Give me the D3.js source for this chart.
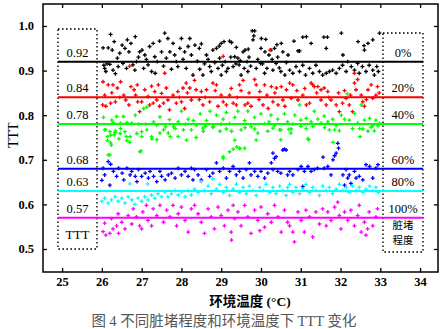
<!DOCTYPE html>
<html>
<head>
<meta charset="utf-8">
<script src="https://cdn.jsdelivr.net/npm/d3@7/dist/d3.min.js"></script>
<style>
  html, body { margin: 0; padding: 0; background: #fff; }
  svg { display: block; }
</style>
</head>
<body>
<svg id="chart" width="445" height="329"></svg>
<script>
// Dirt levels (legend on the right) and the mean TTT drawn for each level
const levels = ["0%", "20%", "40%", "60%", "80%", "100%"];
const meanTTT = [0.92, 0.84, 0.78, 0.68, 0.63, 0.57];
const colors = ["#000000", "#ff0000", "#00ff00", "#0000ff", "#00ffff", "#ff00ff"];

const xTicks = [25, 26, 27, 28, 29, 30, 31, 32, 33, 34];
const yTicks = [0.5, 0.6, 0.7, 0.8, 0.9, 1.0];

// Measured TTT against ambient temperature, [temperature °C, TTT]
const dirt0 = [
  [26.03,0.951],[26.05,0.912],[26.07,0.905],[26.10,0.898],[26.13,0.915],[26.16,0.951],[26.20,0.914],[26.22,0.981],
  [26.26,0.946],[26.28,0.901],[26.31,0.965],[26.34,0.893],[26.39,0.928],[26.41,0.909],[26.45,0.939],[26.51,0.957],
  [26.53,0.916],[26.58,0.950],[26.62,0.905],[26.64,0.969],[26.68,0.942],[26.73,0.961],[26.78,0.913],[26.83,0.901],
  [26.84,0.976],[26.87,0.920],[26.92,0.930],[26.95,0.942],[27.01,0.946],[27.05,0.905],[27.08,0.935],[27.12,0.925],
  [27.16,0.913],[27.20,0.954],[27.25,0.898],[27.29,0.961],[27.33,0.931],[27.34,0.894],[27.39,0.920],[27.45,0.966],
  [27.50,0.942],[27.55,0.910],[27.58,0.984],[27.62,0.928],[27.66,0.972],[27.71,0.942],[27.75,0.903],[27.79,0.961],
  [27.83,0.935],[27.87,0.920],[27.91,0.909],[27.96,0.950],[28.00,0.972],[28.04,0.925],[28.08,0.942],[28.12,0.905],
  [28.17,0.954],[28.21,0.972],[28.25,0.935],[28.29,0.890],[28.34,0.957],[28.54,0.890],[28.63,0.935],[28.71,0.909],
  [28.79,0.946],[28.88,0.950],[28.92,0.905],[29.00,0.961],[29.00,0.890],[29.07,0.965],[29.13,0.898],[29.21,0.966],
  [29.26,0.963],[29.30,0.909],[29.34,0.931],[29.42,0.928],[29.45,0.913],[29.50,0.890],[29.55,0.942],[29.60,0.946],
  [29.65,0.920],[29.67,0.898],[29.78,0.989],[29.80,0.969],[29.82,0.978],[29.84,0.989],[29.88,0.905],[29.99,0.916],
  [30.00,0.950],[30.01,0.972],[30.09,0.894],[30.10,0.942],[30.12,0.970],[30.20,0.935],[30.25,0.946],[30.30,0.901],
  [30.34,0.950],[30.38,0.916],[30.50,0.898],[30.51,0.961],[30.55,0.942],[30.60,0.890],[30.72,0.901],[30.80,0.894],
  [30.83,0.966],[30.88,0.909],[30.93,0.944],[30.97,0.898],[30.97,0.944],[31.05,0.975],[31.05,0.912],[31.12,0.890],
  [31.14,0.976],[31.22,0.905],[31.26,0.961],[31.30,0.894],[31.38,0.912],[31.47,0.898],[31.55,0.890],[31.58,0.975],
  [31.64,0.950],[31.64,0.894],[31.67,0.975],[31.72,0.898],[31.80,0.901],[31.89,0.894],[31.97,0.905],[32.02,0.984],
  [32.05,0.912],[32.06,0.935],[32.14,0.898],[32.18,0.920],[32.27,0.909],[32.35,0.901],[32.43,0.916],[32.44,0.965],
  [32.47,0.894],[32.55,0.909],[32.59,0.956],[32.60,0.946],[32.64,0.898],[32.69,0.961],[32.72,0.912],[32.81,0.969],
  [32.81,0.901],[32.85,0.890],[32.91,0.909],[32.95,0.898],[32.98,0.984],
  [28.40,0.921],[28.46,0.903],[28.58,0.915],[28.67,0.925],[28.75,0.898],[28.84,0.918],[28.96,0.928],[29.03,0.912],
  [29.10,0.920],[29.17,0.905],[29.24,0.930],[29.37,0.915],[29.48,0.922],[29.58,0.905],[29.70,0.930],[29.74,0.910],
  [29.92,0.925],[30.04,0.915],[30.15,0.905],[30.28,0.925],[30.42,0.930],[30.46,0.906],[30.64,0.918],[30.68,0.935],
  [28.45,0.950],[28.50,0.960],[28.95,0.955],[29.38,0.952],[29.68,0.948],[30.40,0.958]
];
const dirt20 = [
  [26.03,0.875],[26.16,0.868],[26.28,0.868],[26.07,0.845],[26.02,0.823],[26.10,0.820],[26.22,0.827],[26.34,0.830],
  [26.39,0.861],[26.47,0.875],[26.55,0.845],[26.60,0.834],[26.68,0.823],[26.73,0.864],[26.81,0.857],[26.85,0.845],
  [26.89,0.868],[26.95,0.808],[27.00,0.830],[27.08,0.857],[27.16,0.842],[27.20,0.823],[27.29,0.827],[27.33,0.853],
  [27.38,0.834],[27.42,0.868],[27.50,0.849],[27.55,0.827],[27.62,0.861],[27.66,0.834],[27.70,0.812],[27.79,0.845],
  [27.87,0.827],[27.91,0.853],[28.00,0.830],[28.04,0.861],[28.08,0.815],[28.12,0.872],[28.21,0.861],[28.25,0.834],
  [27.58,0.894],[26.70,0.910],[28.33,0.878],[28.37,0.857],[28.50,0.853],[28.63,0.857],[28.54,0.823],[28.71,0.830],
  [28.79,0.872],[28.88,0.868],[28.92,0.820],[29.05,0.830],[29.13,0.823],[29.21,0.845],[29.30,0.827],[29.38,0.823],
  [29.46,0.868],[29.55,0.878],[29.60,0.823],[29.67,0.827],[29.75,0.820],[29.84,0.880],[29.88,0.868],[29.97,0.853],
  [30.05,0.823],[30.09,0.868],[30.18,0.815],[30.26,0.864],[30.30,0.830],[30.39,0.861],[30.43,0.823],[30.51,0.864],
  [30.55,0.834],[30.64,0.857],[30.23,0.946],[29.05,0.932],[30.72,0.872],[30.80,0.868],[31.26,0.872],[31.30,0.868],
  [31.34,0.864],[31.43,0.864],[31.51,0.857],[31.59,0.861],[31.68,0.853],[30.76,0.838],[30.93,0.834],[31.05,0.845],
  [31.14,0.823],[31.22,0.827],[31.51,0.834],[31.64,0.823],[31.76,0.834],[31.89,0.823],[31.97,0.808],[32.05,0.827],
  [32.14,0.838],[32.22,0.823],[32.30,0.808],[32.35,0.872],[32.39,0.857],[32.43,0.880],[32.52,0.845],[32.56,0.830],
  [32.60,0.820],[32.69,0.857],[32.77,0.868],[32.81,0.838],[32.89,0.845],[32.93,0.864],[32.35,0.894],
  [26.25,0.850],[26.45,0.840],[26.90,0.830],[27.25,0.865],[27.45,0.820],[27.95,0.840],[28.15,0.850],[28.45,0.835],
  [28.60,0.840],[28.85,0.855],[29.00,0.845],[29.25,0.860],[29.40,0.840],[29.50,0.855],[29.70,0.850],[29.95,0.835],
  [30.15,0.845],[30.35,0.850],[30.60,0.820],[30.90,0.855],[31.10,0.860],[31.40,0.850],[31.70,0.840],[31.95,0.850],
  [32.10,0.855],[32.25,0.845],[32.65,0.835],[32.97,0.850]
];
const dirt40 = [
  [26.04,0.795],[26.25,0.789],[26.37,0.797],[26.54,0.797],[26.29,0.783],[26.47,0.782],[26.63,0.783],[26.75,0.782],
  [26.92,0.780],[26.10,0.767],[26.20,0.763],[26.33,0.761],[26.46,0.759],[26.58,0.763],[26.14,0.752],[26.31,0.756],
  [26.43,0.747],[26.14,0.743],[26.22,0.738],[26.63,0.743],[26.71,0.752],[26.88,0.759],[27.00,0.763],[27.05,0.815],
  [27.13,0.818],[26.84,0.800],[26.16,0.711],[26.96,0.718],[26.07,0.767],[26.22,0.755],[26.34,0.765],[26.47,0.770],
  [26.62,0.752],[26.70,0.739],[26.98,0.720],[27.26,0.747],[27.38,0.745],[27.46,0.760],[27.60,0.774],[27.72,0.752],
  [27.84,0.770],[27.92,0.752],[28.13,0.744],[28.25,0.767],[26.20,0.711],[26.24,0.733],[27.00,0.752],[27.13,0.767],
  [27.25,0.752],[27.38,0.778],[27.46,0.796],[27.55,0.767],[27.67,0.760],[27.80,0.774],[27.92,0.785],[28.00,0.809],
  [28.05,0.767],[28.17,0.791],[28.30,0.788],[28.38,0.778],[28.47,0.803],[28.55,0.764],[28.63,0.788],[28.72,0.809],
  [28.80,0.774],[28.88,0.800],[28.97,0.764],[29.05,0.791],[29.13,0.806],[29.21,0.781],[29.26,0.764],[29.34,0.795],
  [29.42,0.809],[29.50,0.767],[29.59,0.788],[29.67,0.809],[29.75,0.774],[29.84,0.795],[29.92,0.760],[30.00,0.803],
  [30.09,0.781],[30.17,0.764],[30.25,0.800],[30.34,0.778],[30.42,0.791],[30.50,0.767],[30.59,0.803],[30.67,0.785],
  [30.75,0.760],[29.39,0.729],[29.47,0.725],[29.21,0.718],[29.05,0.707],[30.50,0.745],[30.85,0.800],[30.97,0.823],
  [31.00,0.789],[31.14,0.793],[31.26,0.785],[31.34,0.809],[31.43,0.791],[31.51,0.782],[31.59,0.798],[31.68,0.785],
  [31.80,0.791],[31.89,0.777],[32.02,0.800],[32.10,0.791],[32.17,0.848],[32.22,0.789],[32.35,0.804],[32.43,0.782],
  [32.52,0.823],[32.60,0.789],[32.73,0.793],[32.81,0.777],[32.89,0.789],[32.98,0.782],[30.76,0.769],[31.14,0.770],
  [31.18,0.747],[31.72,0.767],[31.85,0.767],[31.97,0.765],[31.81,0.739],[32.48,0.770],[32.56,0.769],[32.69,0.764],
  [32.77,0.773],[32.94,0.776],[30.70,0.768],[31.00,0.775],[32.49,0.752],[31.20,0.745],[28.37,0.750],[29.34,0.744],
  [29.30,0.724],[29.46,0.726],[29.59,0.726],[29.05,0.703],[29.88,0.744],[29.84,0.769],[28.54,0.771],[28.79,0.773],
  [29.13,0.769],[30.30,0.771],[30.47,0.767],
  [27.10,0.780],[27.30,0.785],[27.70,0.790],[28.10,0.780],[28.60,0.775],[29.00,0.780],[29.60,0.772],[30.20,0.785],
  [30.80,0.780],[31.30,0.775],[31.60,0.772],[32.30,0.770],[32.85,0.765]
];
const dirt60 = [
  [26.03,0.681],[26.16,0.696],[26.22,0.690],[26.07,0.666],[26.00,0.654],[26.20,0.643],[26.29,0.674],[26.37,0.663],
  [26.42,0.681],[26.51,0.670],[26.55,0.655],[26.63,0.681],[26.71,0.666],[26.75,0.674],[26.84,0.663],[26.88,0.651],
  [26.92,0.678],[27.00,0.663],[27.09,0.670],[27.17,0.659],[27.21,0.674],[27.30,0.663],[27.38,0.651],[27.46,0.674],
  [27.50,0.663],[27.59,0.655],[27.67,0.666],[27.75,0.670],[27.84,0.659],[27.92,0.681],[28.00,0.666],[28.09,0.674],
  [28.17,0.663],[28.25,0.681],[28.29,0.655],[28.33,0.678],[28.42,0.666],[28.50,0.655],[28.63,0.678],[28.71,0.663],
  [28.79,0.670],[28.88,0.693],[28.96,0.674],[29.05,0.681],[29.13,0.659],[29.21,0.674],[29.30,0.685],[29.38,0.666],
  [29.46,0.674],[29.55,0.659],[29.63,0.678],[29.71,0.693],[29.75,0.666],[29.84,0.674],[29.92,0.663],[30.00,0.674],
  [30.09,0.659],[30.17,0.670],[30.30,0.715],[30.34,0.703],[30.38,0.707],[30.30,0.678],[30.42,0.674],[30.50,0.670],
  [30.55,0.722],[30.59,0.724],[30.63,0.722],[30.67,0.666],[30.26,0.693],[30.72,0.674],[30.80,0.666],[30.93,0.678],
  [31.01,0.685],[31.09,0.674],[31.18,0.685],[31.26,0.674],[31.34,0.678],[31.42,0.681],[31.56,0.706],[31.59,0.681],
  [31.68,0.685],[31.76,0.666],[31.81,0.700],[31.85,0.709],[31.89,0.715],[31.93,0.737],[31.95,0.726],[32.06,0.666],
  [32.10,0.643],[32.14,0.678],[32.18,0.659],[32.22,0.666],[32.26,0.647],[32.35,0.674],[32.39,0.659],[32.47,0.663],
  [32.56,0.655],[32.64,0.689],[32.73,0.685],[32.81,0.659],[32.89,0.681],[32.94,0.689],[31.05,0.640]
];
const dirt80 = [
  [26.00,0.607],[26.07,0.614],[26.16,0.603],[26.24,0.610],[26.33,0.617],[26.41,0.607],[26.50,0.614],[26.58,0.603],
  [26.66,0.617],[26.75,0.610],[26.83,0.600],[26.91,0.614],[27.00,0.607],[27.08,0.617],[27.16,0.610],[27.25,0.621],
  [27.33,0.614],[27.41,0.624],[27.50,0.617],[27.58,0.628],[27.66,0.617],[27.75,0.624],[27.84,0.631],[27.92,0.621],
  [28.00,0.628],[28.09,0.617],[28.17,0.631],[28.25,0.621],[26.70,0.646],[27.15,0.646],[28.33,0.634],[28.42,0.627],
  [28.50,0.651],[28.58,0.631],[28.67,0.641],[28.75,0.624],[28.79,0.657],[28.88,0.634],[28.96,0.645],[29.05,0.627],
  [29.13,0.638],[29.21,0.620],[29.30,0.634],[29.38,0.645],[29.46,0.627],[29.55,0.638],[29.63,0.624],[29.71,0.641],
  [29.80,0.631],[29.88,0.620],[29.97,0.638],[30.05,0.631],[30.13,0.645],[30.22,0.627],[30.30,0.638],[30.38,0.624],
  [30.47,0.641],[30.55,0.631],[30.63,0.620],[30.67,0.638],[30.72,0.645],[30.80,0.627],[30.88,0.638],[30.97,0.624],
  [31.05,0.634],[31.13,0.645],[31.22,0.627],[31.30,0.638],[31.38,0.631],[31.47,0.620],[31.55,0.641],[31.64,0.631],
  [31.72,0.638],[31.80,0.624],[31.89,0.634],[31.97,0.645],[32.05,0.631],[32.14,0.638],[32.22,0.627],[32.30,0.641],
  [32.39,0.631],[32.47,0.638],[32.56,0.627],[32.64,0.634],[32.73,0.641],[32.81,0.631],[32.89,0.638],[32.95,0.627]
];
const dirt100 = [
  [26.03,0.539],[26.10,0.531],[26.20,0.535],[26.28,0.545],[26.07,0.558],[26.24,0.568],[26.37,0.552],[26.41,0.579],
  [26.50,0.560],[26.58,0.545],[26.66,0.575],[26.75,0.556],[26.79,0.590],[26.87,0.572],[26.95,0.552],[27.03,0.583],
  [27.12,0.598],[27.16,0.564],[27.25,0.552],[27.29,0.590],[27.38,0.575],[27.46,0.598],[27.55,0.560],[27.63,0.587],
  [27.71,0.572],[27.79,0.598],[27.88,0.552],[27.92,0.579],[28.00,0.594],[28.09,0.564],[28.17,0.538],[28.25,0.590],
  [26.42,0.535],[27.00,0.545],[28.33,0.598],[28.42,0.579],[28.50,0.560],[28.58,0.535],[28.67,0.590],[28.75,0.572],
  [28.83,0.545],[28.92,0.594],[29.00,0.575],[29.08,0.552],[29.17,0.587],[29.25,0.538],[29.34,0.568],[29.42,0.583],
  [29.50,0.552],[29.59,0.598],[29.67,0.572],[29.75,0.535],[29.84,0.587],[29.92,0.564],[30.00,0.594],[30.09,0.549],
  [30.17,0.579],[30.26,0.560],[30.34,0.598],[30.43,0.572],[30.51,0.538],[30.59,0.587],[30.67,0.560],[29.97,0.541],
  [29.30,0.598],[29.26,0.520],[30.72,0.552],[30.80,0.538],[30.84,0.516],[30.93,0.583],[31.01,0.564],[31.09,0.538],
  [31.13,0.587],[31.22,0.572],[31.30,0.527],[31.38,0.583],[31.47,0.556],[31.55,0.590],[31.64,0.552],[31.68,0.583],
  [31.76,0.564],[31.85,0.594],[31.93,0.605],[31.97,0.575],[32.01,0.545],[32.10,0.583],[32.18,0.564],[32.26,0.587],
  [32.35,0.552],[32.43,0.575],[32.47,0.598],[32.52,0.538],[32.60,0.560],[32.64,0.531],[32.72,0.583],[32.81,0.552],
  [32.89,0.572],[32.93,0.590],[32.68,0.545]
];
const series = [dirt0, dirt20, dirt40, dirt60, dirt80, dirt100];

const svg = d3.select("#chart");
const W = 445, H = 329;
const m = { top: 4, right: 7, bottom: 57, left: 43 };
const pw = W - m.left - m.right, ph = H - m.top - m.bottom;

const x = d3.scaleLinear().domain([24.52, 34.45]).range([0, pw]);
const y = d3.scaleLinear().domain([0.4484, 1.0493]).range([ph, 0]);

const serif = "'Liberation Serif', 'Times New Roman', serif";
const cjk = "'Noto Sans CJK SC', sans-serif";

const g = svg.append("g").attr("transform", `translate(${m.left},${m.top})`);

// scatter points, small plus markers
const cross = d3.symbol().type(d3.symbolCross).size(8.5);
series.forEach((pts, i) => {
  g.append("g").selectAll("path").data(pts).join("path")
    .attr("d", cross)
    .attr("transform", d => `translate(${x(d[0])},${y(d[1])})`)
    .attr("fill", colors[i]);
});

// legend boxes (dotted) on both sides
const boxL = { x0: 15, x1: 54, y0: 25, y1: 245 };
const boxR = { x0: 340, x1: 380, y0: 29, y1: 248 };
[boxL, boxR].forEach(b => {
  g.append("rect")
    .attr("x", b.x0).attr("y", b.y0)
    .attr("width", b.x1 - b.x0).attr("height", b.y1 - b.y0)
    .attr("fill", "none").attr("stroke", "#000")
    .attr("stroke-width", 1.4).attr("stroke-dasharray", "1.6,2.4");
});

// mean lines across the plot
meanTTT.forEach((v, i) => {
  g.append("line")
    .attr("x1", boxL.x0).attr("x2", boxR.x1)
    .attr("y1", y(v)).attr("y2", y(v))
    .attr("stroke", colors[i]).attr("stroke-width", 2);
  g.append("text")
    .attr("x", (boxL.x0 + boxL.x1) / 2).attr("y", y(v) - 5)
    .attr("text-anchor", "middle")
    .attr("font-family", serif).attr("font-size", 12.5)
    .text(d3.format(".2f")(v));
  g.append("text")
    .attr("x", (boxR.x0 + boxR.x1) / 2).attr("y", y(v) - 5)
    .attr("text-anchor", "middle")
    .attr("font-family", serif).attr("font-size", 12.5)
    .text(levels[i]);
});

g.append("text")
  .attr("x", (boxL.x0 + boxL.x1) / 2).attr("y", 235)
  .attr("text-anchor", "middle")
  .attr("font-family", serif).attr("font-size", 13)
  .text("TTT");
["脏堵", "程度"].forEach((t, k) => {
  g.append("text")
    .attr("x", (boxR.x0 + boxR.x1) / 2).attr("y", 224.5 + k * 15)
    .attr("text-anchor", "middle")
    .attr("font-family", cjk).attr("font-size", 10.5)
    .text(t);
});

// axes with inward ticks on all four sides
const tickStyle = sel => {
  sel.select(".domain").remove();
  sel.selectAll(".tick line").attr("stroke", "#000").attr("stroke-width", 1.3);
  sel.selectAll(".tick text")
    .attr("font-family", serif).attr("font-weight", "bold")
    .attr("font-size", 12.5).attr("fill", "#000");
};
g.append("g").attr("transform", `translate(0,${ph})`)
  .call(d3.axisBottom(x).tickValues(xTicks).tickSize(-4).tickPadding(5).tickFormat(d3.format("d")))
  .call(tickStyle);
g.append("g")
  .call(d3.axisTop(x).tickValues(xTicks).tickSize(-4).tickFormat(""))
  .call(tickStyle);
g.append("g")
  .call(d3.axisLeft(y).tickValues(yTicks).tickSize(-4).tickPadding(9).tickFormat(d3.format(".1f")))
  .call(tickStyle);
g.append("g").attr("transform", `translate(${pw},0)`)
  .call(d3.axisRight(y).tickValues(yTicks).tickSize(-4).tickFormat(""))
  .call(tickStyle);

// frame
g.append("rect").attr("width", pw).attr("height", ph)
  .attr("fill", "none").attr("stroke", "#000").attr("stroke-width", 1.5);

// axis titles
svg.append("text")
  .attr("transform", `translate(13,${m.top + y(0.755)}) rotate(-90)`)
  .attr("text-anchor", "middle").attr("dominant-baseline", "central")
  .attr("font-family", serif).attr("font-size", 14)
  .text("TTT");

const xt = svg.append("text")
  .attr("x", 250).attr("y", 306)
  .attr("text-anchor", "middle")
  .attr("font-weight", "bold").attr("font-size", 13.5);
xt.append("tspan").attr("font-family", cjk).text("环境温度");
xt.append("tspan").attr("font-family", serif).text(" (°C)");

// figure caption
const cap = svg.append("text")
  .attr("x", 224).attr("y", 326)
  .attr("text-anchor", "middle")
  .attr("fill", "#555").attr("font-size", 14.5);
cap.append("tspan").attr("font-family", cjk).text("图 ");
cap.append("tspan").attr("font-family", serif).text("4  ");
cap.append("tspan").attr("font-family", cjk).text(" 不同脏堵程度和环境温度下 ");
cap.append("tspan").attr("font-family", serif).text("TTT ");
cap.append("tspan").attr("font-family", cjk).text("变化");
</script>
</body>
</html>
